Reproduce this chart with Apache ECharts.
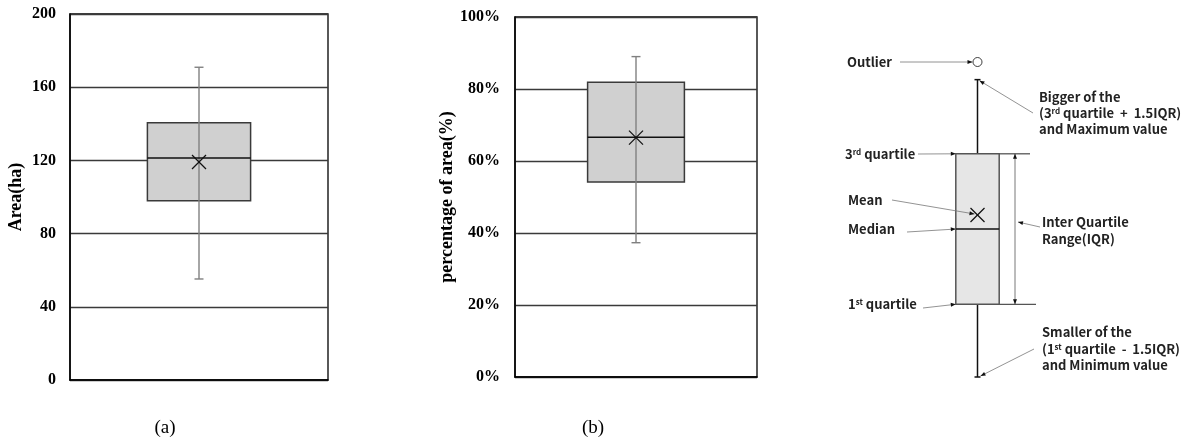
<!DOCTYPE html>
<html><head><meta charset="utf-8">
<script src="https://cdn.jsdelivr.net/npm/echarts@6/dist/echarts.min.js"></script>
<style>html,body{margin:0;padding:0;background:#fff}#c{width:1190px;height:443px}</style>
</head><body><div id="c"></div>
<script>
// ---- data ----
const categoriesA = ['Area'];
const statsA = [55.2, 98.0, 121.3, 140.6, 170.9];   // min, Q1, median, Q3, max
const meanA = 119.1;
const ticksA = [0, 40, 80, 120, 160, 200];

const categoriesB = ['Percentage'];
const statsB = [37.3, 54.2, 66.6, 81.9, 89.0];
const meanB = 66.5;
const ticksB = [0, 20, 40, 60, 80, 100];

// schematic (explanatory) box plot
const categoriesS = ['Schematic'];
const statsS = [0, 20.2, 41.1, 62.0, 82.6];
const meanS = 45.0;
const outlierS = [87.5];

// ---- rendering ----
const serif = 'Liberation Serif, Times New Roman, serif';
const sans = 'Noto Sans CJK KR, Noto Sans, sans-serif';

function boxRenderer(cfg) {
  return function (params, api) {
    const x = api.value(0);
    const v = [1, 2, 3, 4, 5, 6].map(i => api.value(i));
    const pMin = api.coord([x, v[0]]), pQ1 = api.coord([x, v[1]]), pMed = api.coord([x, v[2]]),
          pQ3 = api.coord([x, v[3]]), pMax = api.coord([x, v[4]]), pMean = api.coord([x, v[5]]);
    const cx = pMin[0];
    const bw = api.size([1, 0])[0] * cfg.frac;
    const l = cx - bw / 2;
    const capW = cfg.cap;
    const ws = { stroke: cfg.whisker, lineWidth: cfg.whiskerW };
    const ch = [];
    const rect = { type: 'rect', shape: { x: l, y: pQ3[1], width: bw, height: pQ1[1] - pQ3[1] },
      style: { fill: cfg.fill, stroke: cfg.boxStroke, lineWidth: cfg.boxW } };
    if (cfg.through) {
      ch.push(rect);
      ch.push({ type: 'line', shape: { x1: cx, y1: pMax[1], x2: cx, y2: pMin[1] }, style: ws });
    } else {
      ch.push({ type: 'line', shape: { x1: cx, y1: pMax[1], x2: cx, y2: pQ3[1] }, style: ws });
      ch.push({ type: 'line', shape: { x1: cx, y1: pQ1[1], x2: cx, y2: pMin[1] }, style: ws });
      ch.push(rect);
    }
    ch.push({ type: 'line', shape: { x1: cx - capW / 2, y1: pMax[1], x2: cx + capW / 2, y2: pMax[1] }, style: ws });
    ch.push({ type: 'line', shape: { x1: cx - capW / 2, y1: pMin[1], x2: cx + capW / 2, y2: pMin[1] }, style: ws });
    ch.push({ type: 'line', shape: { x1: l, y1: pMed[1], x2: l + bw, y2: pMed[1] }, style: { stroke: '#111', lineWidth: 1.5 } });
    const s = 7;
    ch.push({ type: 'line', shape: { x1: cx - s, y1: pMean[1] - s, x2: cx + s, y2: pMean[1] + s }, style: { stroke: '#111', lineWidth: 1.2 } });
    ch.push({ type: 'line', shape: { x1: cx - s, y1: pMean[1] + s, x2: cx + s, y2: pMean[1] - s }, style: { stroke: '#111', lineWidth: 1.2 } });
    return { type: 'group', children: ch };
  };
}

function valueAxis(gridIndex, ticks, name, gap, fmt, margin) {
  return {
    type: 'value', gridIndex, min: ticks[0], max: ticks[ticks.length - 1], interval: ticks[1] - ticks[0],
    axisLine: { show: true, lineStyle: { color: '#000', width: 1.5 } },
    axisTick: { show: false },
    axisLabel: { fontFamily: serif, fontWeight: 'bold', fontSize: 16, color: '#000', margin, formatter: fmt },
    splitLine: { show: true, lineStyle: { color: '#3a3a3a', width: 1.4 } },
    name, nameLocation: 'middle', nameGap: gap,
    nameTextStyle: { fontFamily: serif, fontWeight: 'bold', fontSize: 18, color: '#000' }
  };
}

const chart = echarts.init(document.getElementById('c'), null, { renderer: 'canvas' });
const cfgAB = { frac: 0.4, cap: 9, whisker: '#808080', whiskerW: 1.4, fill: '#d0d0d0', boxStroke: '#3a3a3a', boxW: 1.5, through: true };
const cfgS = { frac: 0.28, cap: 6, whisker: '#111', whiskerW: 1.5, fill: '#e6e6e6', boxStroke: '#555', boxW: 1.5, through: false };

chart.setOption({
  animation: false,
  grid: [
    { left: 70, top: 14, width: 258, height: 366, show: true, borderColor: '#000', borderWidth: 1.3 },
    { left: 515, top: 17, width: 242, height: 360, show: true, borderColor: '#000', borderWidth: 1.3 },
    { left: 900, top: 17, width: 155, height: 360, show: false }
  ],
  xAxis: [
    { type: 'category', gridIndex: 0, data: categoriesA, axisLine: { show: true, lineStyle: { color: '#000', width: 1.5 } }, axisTick: { show: false }, axisLabel: { show: false } },
    { type: 'category', gridIndex: 1, data: categoriesB, axisLine: { show: true, lineStyle: { color: '#000', width: 1.5 } }, axisTick: { show: false }, axisLabel: { show: false } },
    { type: 'category', gridIndex: 2, data: categoriesS, show: false }
  ],
  yAxis: [
    valueAxis(0, ticksA, 'Area(ha)', 45, '{value}', 14),
    valueAxis(1, ticksB, 'percentage of area(%)', 58, '{value}%', 15),
    { type: 'value', gridIndex: 2, min: 0, max: 100, show: false, splitLine: { show: false } }
  ],
  series: [
    { type: 'custom', xAxisIndex: 0, yAxisIndex: 0, renderItem: boxRenderer(cfgAB), z: 5,
      data: [[0, ...statsA, meanA]] },
    { type: 'custom', xAxisIndex: 1, yAxisIndex: 1, renderItem: boxRenderer(cfgAB), z: 5,
      data: [[0, ...statsB, meanB]] },
    { type: 'custom', xAxisIndex: 2, yAxisIndex: 2, renderItem: boxRenderer(cfgS), z: 5,
      data: [[0, ...statsS, meanS]] },
    { type: 'scatter', xAxisIndex: 2, yAxisIndex: 2, symbol: 'circle', symbolSize: 9, z: 6,
      itemStyle: { color: '#fff', borderColor: '#111', borderWidth: 1 },
      data: outlierS.map(v => [0, v]) }
  ]
});

// ---- annotations for the schematic ----
const px = v => chart.convertToPixel({ gridIndex: 2 }, [0, v]);
const pMin = px(statsS[0]), pQ1 = px(statsS[1]), pMed = px(statsS[2]), pQ3 = px(statsS[3]),
      pMax = px(statsS[4]), pMean = px(meanS), pOut = px(outlierS[0]);
const halfW = 155 * cfgS.frac / 2;
const cx = pMin[0];

const g = [];
function line(x1, y1, x2, y2, color, w) {
  g.push({ type: 'line', shape: { x1, y1, x2, y2 }, style: { stroke: color || '#777', lineWidth: w || 0.8 }, z: 10 });
}
function head(x1, y1, x2, y2) {
  const a = Math.atan2(y2 - y1, x2 - x1), L = 5, W = 2;
  const bx = x2 - L * Math.cos(a), by = y2 - L * Math.sin(a);
  g.push({ type: 'polygon', shape: { points: [[x2, y2], [bx + W * Math.sin(a), by - W * Math.cos(a)], [bx - W * Math.sin(a), by + W * Math.cos(a)]] },
    style: { fill: '#111' }, z: 11 });
}
function arrow(x1, y1, x2, y2) { line(x1, y1, x2, y2); head(x1, y1, x2, y2); }

const rich = {
  n: { fontFamily: sans, fontWeight: 'bold', fontSize: 13, color: '#222' },
  s: { fontFamily: sans, fontWeight: 'bold', fontSize: 8, color: '#222', verticalAlign: 'top', padding: [0, 0, 4, 0] }
};
function text(x, y, t) {
  g.push({ type: 'text', x, y, z: 12,
    style: { text: t, rich, font: 'bold 13px ' + sans, fill: '#222', align: 'left', verticalAlign: 'middle', textAlign: 'left', textVerticalAlign: 'middle' } });
}

// outlier
text(847, 62, '{n|Outlier}');
arrow(900, 62, pOut[0] - 5, pOut[1]);
// max
text(1039, 97, '{n|Bigger of the}');
text(1039, 113, '{n|(3}{s|rd}{n| quartile  +  1.5IQR)}');
text(1039, 129, '{n|and Maximum value}');
arrow(1033, 113, cx + 2, pMax[1] + 1);
// Q3
text(845, 154, '{n|3}{s|rd}{n| quartile}');
arrow(918, 154, cx - halfW, pQ3[1]);
line(cx + halfW, pQ3[1], 1030, pQ3[1], '#555', 1.3);
line(cx + halfW, pQ1[1], 1036, pQ1[1], '#555', 1.3);
// IQR
line(1015, pQ3[1], 1015, pQ1[1], '#555', 0.8);
head(1015, pQ3[1] + 10, 1015, pQ3[1]);
head(1015, pQ1[1] - 10, 1015, pQ1[1]);
text(1042, 222, '{n|Inter Quartile}');
text(1042, 239, '{n|Range(IQR)}');
arrow(1040, 227, 1018, 222);
// mean / median / Q1
text(848, 200, '{n|Mean}');
arrow(892, 200, pMean[0] - 3, pMean[1] - 1);
text(848, 229, '{n|Median}');
arrow(907, 232, cx - halfW, pMed[1]);
text(848, 304, '{n|1}{s|st}{n| quartile}');
arrow(923, 308, cx - halfW, pQ1[1]);
// min
text(1042, 332, '{n|Smaller of the}');
text(1042, 349, '{n|(1}{s|st}{n| quartile  -  1.5IQR)}');
text(1042, 365, '{n|and Minimum value}');
arrow(1034, 349, cx + 3, pMin[1] - 1);

// panel labels
g.push({ type: 'text', x: 165, y: 428, z: 12, style: { text: '(a)', font: '19px ' + serif, fill: '#000', align: 'center', verticalAlign: 'middle', textAlign: 'center', textVerticalAlign: 'middle' } });
g.push({ type: 'text', x: 593, y: 428, z: 12, style: { text: '(b)', font: '19px ' + serif, fill: '#000', align: 'center', verticalAlign: 'middle', textAlign: 'center', textVerticalAlign: 'middle' } });

chart.setOption({ graphic: g });
</script>
</body></html>
